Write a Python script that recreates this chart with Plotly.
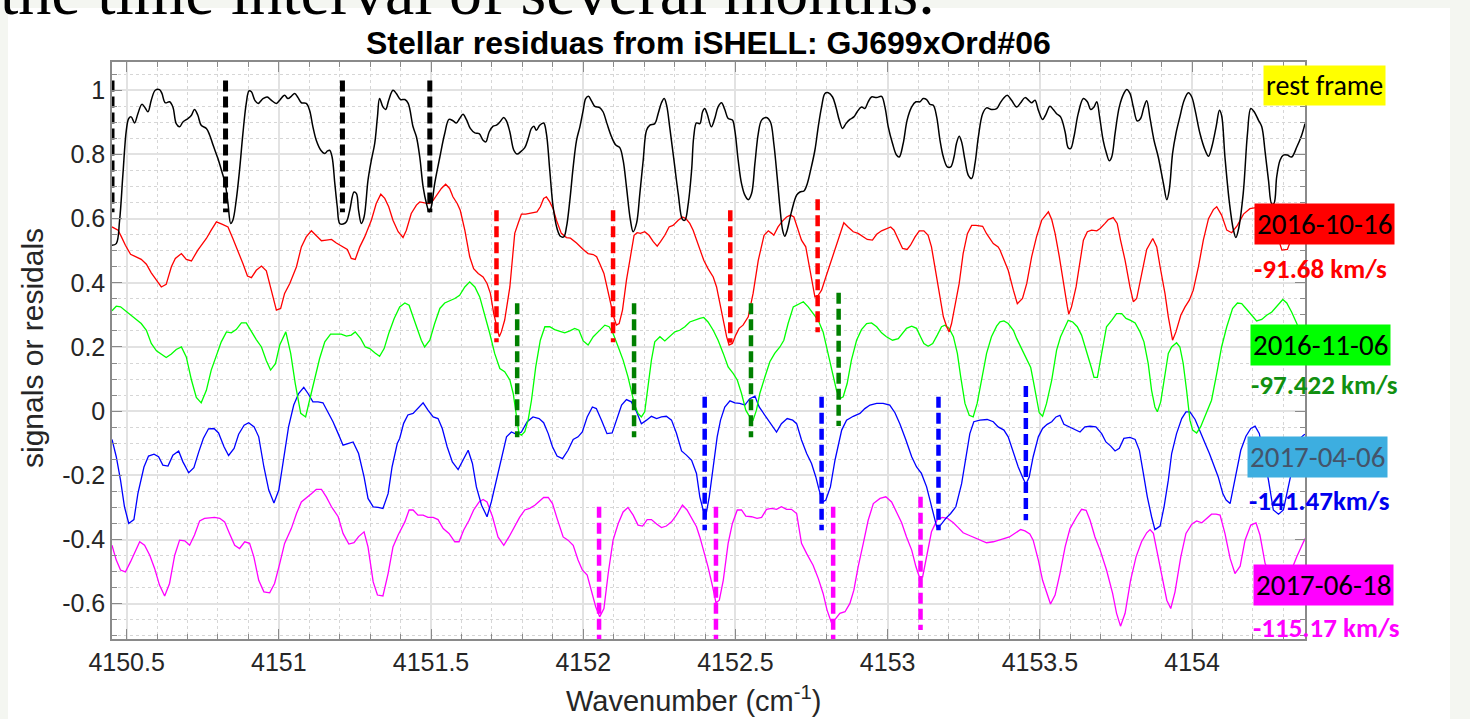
import plotly.graph_objects as go

# ---------------- data (wavenumber cm^-1, signal) ----------------
BLACK = [(4150.452,0.517),(4150.466,0.522),(4150.477,0.595),(4150.488,0.740),(4150.499,0.875),(4150.507,0.912),(4150.515,0.917),(4150.526,0.898),(4150.537,0.927),(4150.550,0.956),
(4150.559,0.948),(4150.570,0.933),(4150.581,0.969),(4150.594,1.000),(4150.608,1.002),(4150.616,0.990),(4150.627,0.961),(4150.641,0.964),(4150.652,0.948),(4150.663,0.896),
(4150.674,0.886),(4150.685,0.901),(4150.702,0.912),(4150.713,0.922),(4150.723,0.940),(4150.734,0.922),(4150.745,0.891),(4150.762,0.881),(4150.773,0.860),(4150.784,0.829),
(4150.800,0.787),(4150.813,0.746),(4150.824,0.709),(4150.833,0.647),(4150.842,0.585),(4150.849,0.595),(4150.860,0.657),(4150.871,0.751),(4150.882,0.865),(4150.893,0.959),
(4150.902,0.998),(4150.910,0.995),(4150.921,0.969),(4150.932,0.959),(4150.948,0.974),(4150.962,0.979),(4150.975,0.969),(4150.992,0.959),(4151.003,0.969),(4151.019,0.984),
(4151.030,0.974),(4151.041,0.981),(4151.052,0.990),(4151.063,0.977),(4151.074,0.961),(4151.090,0.959),(4151.101,0.938),(4151.112,0.886),(4151.123,0.844),(4151.138,0.813),
(4151.151,0.803),(4151.160,0.811),(4151.167,0.813),(4151.175,0.792),(4151.184,0.709),(4151.192,0.637),(4151.200,0.585),(4151.211,0.583),(4151.222,0.590),(4151.233,0.626),
(4151.247,0.683),(4151.255,0.678),(4151.262,0.626),(4151.271,0.585),(4151.280,0.605),(4151.293,0.720),(4151.304,0.782),(4151.315,0.834),(4151.324,0.917),(4151.331,0.974),
(4151.342,0.948),(4151.351,0.940),(4151.361,0.969),(4151.375,1.000),(4151.386,0.990),(4151.400,0.971),
(4151.414,0.971),(4151.425,0.959),(4151.441,0.886),(4151.452,0.855),(4151.463,0.792),(4151.474,0.699),(4151.485,0.647),(4151.494,0.621),(4151.501,0.637),(4151.512,0.709),
(4151.529,0.792),(4151.545,0.865),(4151.559,0.909),(4151.572,0.905),(4151.583,0.898),(4151.594,0.912),(4151.605,0.925),(4151.616,0.909),(4151.629,0.881),(4151.644,0.867),
(4151.658,0.865),(4151.671,0.844),(4151.680,0.839),(4151.691,0.870),(4151.704,0.888),(4151.715,0.891),(4151.726,0.901),(4151.739,0.915),(4151.748,0.904),(4151.759,0.870),
(4151.772,0.813),(4151.783,0.801),(4151.794,0.808),(4151.808,0.821),(4151.819,0.849),(4151.830,0.881),(4151.838,0.888),(4151.846,0.875),(4151.857,0.891),(4151.870,0.898),
(4151.879,0.865),(4151.890,0.751),(4151.901,0.637),(4151.914,0.569),(4151.925,0.545),(4151.936,0.543),(4151.945,0.574),(4151.956,0.657),(4151.967,0.761),(4151.978,0.844),
(4151.989,0.886),(4152.000,0.938),(4152.008,0.974),(4152.017,0.981),(4152.027,0.967),(4152.038,0.950),(4152.054,0.946),(4152.065,0.933),(4152.078,0.896),(4152.093,0.855),
(4152.107,0.829),(4152.120,0.821),(4152.131,0.782),(4152.142,0.699),(4152.155,0.595),(4152.164,0.559),(4152.175,0.585),(4152.186,0.678),(4152.197,0.782),(4152.208,0.875),
(4152.219,0.891),(4152.235,0.896),(4152.246,0.927),(4152.257,0.961),(4152.266,0.974),(4152.274,0.953),(4152.284,0.886),(4152.298,0.782),(4152.312,0.678),(4152.326,0.597),
(4152.334,0.595),(4152.345,0.647),(4152.356,0.751),(4152.363,0.855),(4152.372,0.898),(4152.383,0.896),
(4152.392,0.933),(4152.399,0.943),(4152.407,0.927),(4152.421,0.886),(4152.432,0.912),(4152.443,0.948),(4152.454,0.961),(4152.465,0.940),(4152.476,0.912),(4152.490,0.907),
(4152.498,0.875),(4152.509,0.782),(4152.520,0.709),(4152.531,0.673),(4152.542,0.659),(4152.553,0.678),(4152.564,0.772),(4152.575,0.865),(4152.586,0.907),(4152.602,0.915),
(4152.615,0.901),(4152.626,0.834),(4152.637,0.730),(4152.646,0.637),(4152.655,0.564),(4152.662,0.545),(4152.670,0.564),(4152.684,0.621),(4152.701,0.673),(4152.712,0.683),
(4152.725,0.686),(4152.736,0.709),(4152.747,0.751),(4152.761,0.813),(4152.772,0.886),(4152.783,0.948),(4152.794,0.990),(4152.805,0.992),(4152.819,0.979),(4152.830,0.948),
(4152.841,0.907),(4152.852,0.881),(4152.863,0.896),(4152.876,0.909),(4152.889,0.917),(4152.900,0.933),(4152.914,0.948),(4152.925,0.943),(4152.936,0.964),(4152.947,0.979),
(4152.964,0.977),(4152.980,0.981),(4152.991,0.948),(4153.002,0.886),(4153.016,0.834),(4153.029,0.798),(4153.038,0.792),(4153.051,0.834),(4153.064,0.907),(4153.079,0.948),
(4153.093,0.964),(4153.106,0.964),(4153.117,0.974),(4153.128,0.971),(4153.139,0.956),(4153.150,0.953),(4153.161,0.917),(4153.172,0.844),(4153.183,0.792),(4153.196,0.761),
(4153.207,0.761),(4153.218,0.792),(4153.226,0.834),(4153.235,0.857),(4153.243,0.839),(4153.254,0.782),(4153.265,0.735),(4153.276,0.725),(4153.287,0.772),(4153.298,0.855),
(4153.312,0.927),(4153.325,0.945),(4153.341,0.940),(4153.358,0.943),
(4153.369,0.959),(4153.380,0.974),(4153.393,0.984),(4153.407,0.969),(4153.424,0.948),(4153.437,0.961),(4153.451,0.977),(4153.465,0.967),(4153.473,0.961),(4153.484,0.969),
(4153.495,0.938),(4153.509,0.909),(4153.520,0.925),(4153.533,0.950),(4153.544,0.940),(4153.555,0.927),(4153.568,0.917),(4153.583,0.870),(4153.593,0.821),(4153.601,0.818),
(4153.612,0.855),(4153.626,0.927),(4153.643,0.974),(4153.656,0.964),(4153.667,0.940),(4153.678,0.948),(4153.687,0.964),(4153.697,0.912),(4153.708,0.844),(4153.719,0.803),
(4153.728,0.780),(4153.736,0.792),(4153.747,0.865),(4153.761,0.948),(4153.776,0.990),(4153.785,1.002),(4153.796,0.990),(4153.807,0.948),(4153.820,0.904),(4153.831,0.912),
(4153.842,0.948),(4153.851,0.967),(4153.862,0.912),(4153.875,0.844),(4153.889,0.792),(4153.906,0.709),(4153.917,0.659),(4153.925,0.689),(4153.936,0.803),(4153.947,0.865),
(4153.960,0.917),(4153.974,0.969),(4153.988,0.992),(4153.999,0.979),(4154.010,0.938),(4154.026,0.865),(4154.043,0.813),(4154.054,0.794),(4154.065,0.824),(4154.079,0.886),
(4154.090,0.938),(4154.097,0.922),(4154.108,0.792),(4154.123,0.647),(4154.136,0.564),(4154.144,0.541),(4154.152,0.564),(4154.168,0.678),(4154.182,0.865),(4154.193,0.943),
(4154.204,0.933),(4154.218,0.907),(4154.229,0.886),(4154.240,0.808),(4154.251,0.720),(4154.262,0.645),(4154.269,0.647),(4154.278,0.730),(4154.289,0.782),(4154.300,0.798),
(4154.313,0.798),(4154.327,0.792),(4154.344,0.823),(4154.360,0.860),(4154.371,0.896)]

RED = [(4150.452,0.574),(4150.472,0.564),(4150.483,0.543),(4150.496,0.517),(4150.513,0.489),(4150.532,0.479),(4150.548,0.473),(4150.565,0.458),(4150.581,0.431),(4150.598,0.408),
(4150.614,0.387),(4150.630,0.395),(4150.647,0.450),(4150.660,0.476),(4150.680,0.491),(4150.696,0.473),(4150.713,0.468),(4150.734,0.502),(4150.762,0.538),(4150.778,0.564),
(4150.795,0.590),(4150.813,0.583),(4150.833,0.574),(4150.849,0.538),(4150.866,0.500),(4150.882,0.460),(4150.897,0.421),(4150.910,0.416),(4150.926,0.439),(4150.943,0.452),
(4150.959,0.437),(4150.975,0.377),(4150.992,0.315),(4151.006,0.320),(4151.019,0.367),(4151.036,0.398),(4151.058,0.450),(4151.074,0.512),(4151.090,0.543),(4151.107,0.562),
(4151.123,0.548),(4151.140,0.531),(4151.156,0.533),(4151.173,0.535),(4151.189,0.524),(4151.211,0.512),(4151.225,0.504),(4151.238,0.476),(4151.251,0.473),(4151.266,0.512),
(4151.282,0.543),(4151.304,0.595),(4151.320,0.647),(4151.335,0.676),(4151.348,0.663),(4151.361,0.637),(4151.375,0.595),(4151.392,0.559),
(4151.408,0.541),(4151.419,0.564),(4151.435,0.616),(4151.452,0.642),(4151.463,0.652),(4151.479,0.649),(4151.494,0.647),(4151.507,0.657),(4151.520,0.673),(4151.534,0.694),
(4151.548,0.707),(4151.561,0.694),(4151.572,0.668),(4151.586,0.647),(4151.596,0.626),(4151.611,0.564),(4151.627,0.481),(4151.640,0.444),(4151.655,0.429),(4151.671,0.418),
(4151.684,0.398),(4151.695,0.367),(4151.706,0.304),(4151.715,0.263),(4151.724,0.232),(4151.731,0.247),(4151.742,0.284),(4151.759,0.387),(4151.775,0.554),(4151.786,0.585),
(4151.797,0.614),(4151.811,0.614),(4151.824,0.616),(4151.835,0.618),(4151.848,0.621),(4151.859,0.637),(4151.870,0.663),(4151.879,0.668),(4151.890,0.652),(4151.901,0.631),
(4151.912,0.595),(4151.928,0.554),(4151.945,0.541),(4151.958,0.539),(4151.978,0.524),(4152.000,0.504),(4152.016,0.491),(4152.033,0.488),(4152.044,0.481),(4152.054,0.460),
(4152.068,0.429),(4152.078,0.387),(4152.089,0.335),(4152.100,0.294),(4152.109,0.268),(4152.118,0.273),(4152.129,0.315),(4152.142,0.408),(4152.155,0.481),(4152.167,0.548),
(4152.177,0.556),(4152.188,0.554),(4152.202,0.559),(4152.216,0.548),(4152.230,0.528),(4152.243,0.514),(4152.254,0.528),(4152.268,0.548),(4152.282,0.574),(4152.295,0.579),
(4152.312,0.595),(4152.326,0.605),(4152.337,0.600),(4152.350,0.585),(4152.361,0.564),(4152.377,0.522),
(4152.383,0.502),(4152.396,0.470),(4152.410,0.444),(4152.427,0.418),(4152.438,0.387),(4152.449,0.335),(4152.460,0.284),(4152.471,0.232),(4152.479,0.206),(4152.490,0.211),
(4152.501,0.237),(4152.512,0.258),(4152.525,0.268),(4152.542,0.294),(4152.558,0.367),(4152.575,0.470),(4152.594,0.548),(4152.608,0.562),(4152.619,0.554),(4152.626,0.548),
(4152.640,0.574),(4152.655,0.593),(4152.668,0.605),(4152.681,0.611),(4152.692,0.605),(4152.703,0.574),(4152.717,0.533),(4152.731,0.512),(4152.739,0.470),(4152.750,0.408),
(4152.761,0.356),(4152.772,0.361),(4152.783,0.377),(4152.797,0.418),(4152.812,0.460),(4152.827,0.502),(4152.841,0.543),(4152.856,0.587),(4152.870,0.574),(4152.887,0.559),
(4152.903,0.554),(4152.920,0.543),(4152.933,0.535),(4152.950,0.533),(4152.964,0.551),(4152.980,0.562),(4152.996,0.569),(4153.010,0.574),(4153.021,0.564),(4153.035,0.538),
(4153.049,0.507),(4153.064,0.504),(4153.075,0.517),(4153.090,0.543),(4153.104,0.562),(4153.119,0.562),(4153.133,0.548),(4153.144,0.512),(4153.155,0.450),(4153.170,0.367),
(4153.183,0.294),(4153.194,0.263),(4153.202,0.247),(4153.210,0.273),(4153.221,0.325),(4153.235,0.398),(4153.248,0.491),(4153.262,0.553),(4153.276,0.579),(4153.290,0.579),
(4153.312,0.576),(4153.325,0.553),(4153.347,0.522),(4153.363,0.512),
(4153.369,0.502),(4153.382,0.470),(4153.396,0.439),(4153.413,0.377),(4153.426,0.335),(4153.443,0.351),(4153.457,0.398),(4153.473,0.481),(4153.489,0.543),(4153.506,0.595),
(4153.520,0.611),(4153.528,0.621),(4153.539,0.597),(4153.550,0.554),(4153.564,0.481),(4153.577,0.398),(4153.590,0.327),(4153.595,0.302),(4153.604,0.325),(4153.619,0.387),
(4153.634,0.470),(4153.643,0.533),(4153.656,0.559),(4153.670,0.564),(4153.687,0.562),(4153.698,0.569),(4153.714,0.585),(4153.725,0.597),(4153.741,0.603),(4153.754,0.585),
(4153.765,0.533),(4153.780,0.470),(4153.796,0.387),(4153.807,0.341),(4153.818,0.351),(4153.834,0.429),(4153.851,0.504),(4153.871,0.538),(4153.884,0.512),(4153.895,0.450),
(4153.911,0.367),(4153.922,0.294),(4153.936,0.221),(4153.947,0.247),(4153.963,0.299),(4153.977,0.325),(4153.991,0.346),(4154.004,0.377),(4154.021,0.450),(4154.037,0.533),
(4154.054,0.600),(4154.070,0.628),(4154.081,0.637),(4154.097,0.611),(4154.114,0.564),(4154.130,0.556),(4154.149,0.579),(4154.169,0.614),(4154.190,0.631),(4154.210,0.634),
(4154.234,0.642),(4154.262,0.626),(4154.278,0.553),(4154.295,0.502),(4154.313,0.504),(4154.333,0.553),(4154.355,0.605),(4154.371,0.636)]

GREEN = [(4150.452,0.313),(4150.466,0.327),(4150.480,0.325),(4150.496,0.313),(4150.515,0.299),(4150.532,0.286),(4150.548,0.273),(4150.565,0.252),(4150.581,0.211),(4150.598,0.188),
(4150.614,0.178),(4150.630,0.167),(4150.647,0.178),(4150.663,0.192),(4150.680,0.200),(4150.696,0.169),(4150.713,0.097),(4150.729,0.043),(4150.745,0.026),(4150.762,0.065),
(4150.778,0.128),(4150.795,0.174),(4150.811,0.216),(4150.828,0.247),(4150.844,0.244),(4150.860,0.254),(4150.877,0.275),(4150.893,0.275),(4150.910,0.247),(4150.926,0.223),
(4150.943,0.200),(4150.959,0.157),(4150.973,0.128),(4150.989,0.148),(4151.003,0.206),(4151.023,0.247),(4151.039,0.180),(4151.054,0.086),(4151.072,-0.007),(4151.088,-0.018),
(4151.101,0.034),(4151.118,0.102),(4151.134,0.164),(4151.151,0.216),(4151.170,0.240),(4151.189,0.240),(4151.205,0.240),(4151.222,0.234),(4151.238,0.237),(4151.251,0.247),
(4151.269,0.226),(4151.284,0.200),(4151.299,0.195),(4151.315,0.182),(4151.331,0.171),(4151.346,0.195),(4151.361,0.242),(4151.379,0.289),(4151.397,0.325),
(4151.414,0.337),(4151.428,0.330),(4151.441,0.294),(4151.457,0.252),(4151.468,0.221),(4151.479,0.200),(4151.496,0.221),(4151.512,0.273),(4151.529,0.320),(4151.545,0.337),
(4151.561,0.344),(4151.578,0.351),(4151.594,0.361),(4151.611,0.387),(4151.627,0.403),(4151.644,0.387),(4151.660,0.356),(4151.676,0.304),(4151.693,0.242),(4151.709,0.180),
(4151.726,0.133),(4151.742,0.123),(4151.759,0.097),(4151.770,0.055),(4151.780,-0.007),(4151.789,-0.070),(4151.797,-0.075),(4151.808,-0.064),(4151.819,-0.028),(4151.830,0.034),
(4151.844,0.138),(4151.859,0.221),(4151.874,0.263),(4151.890,0.263),(4151.906,0.254),(4151.923,0.250),(4151.939,0.244),(4151.956,0.250),(4151.972,0.258),(4151.986,0.252),
(4152.000,0.219),(4152.016,0.206),(4152.033,0.232),(4152.049,0.247),(4152.071,0.268),(4152.085,0.263),(4152.098,0.242),(4152.115,0.200),(4152.131,0.159),(4152.147,0.107),
(4152.158,0.065),(4152.169,0.019),(4152.180,-0.007),(4152.191,-0.018),(4152.202,-0.002),(4152.213,0.076),(4152.224,0.159),(4152.235,0.216),(4152.252,0.232),(4152.268,0.219),
(4152.284,0.234),(4152.301,0.247),(4152.317,0.252),(4152.334,0.263),(4152.350,0.278),(4152.372,0.286),
(4152.383,0.289),(4152.396,0.292),(4152.410,0.278),(4152.427,0.252),(4152.443,0.221),(4152.460,0.180),(4152.476,0.138),(4152.493,0.117),(4152.506,0.097),(4152.520,0.055),
(4152.534,0.003),(4152.547,-0.018),(4152.558,-0.028),(4152.569,0.003),(4152.580,0.055),(4152.597,0.107),(4152.613,0.154),(4152.629,0.180),(4152.646,0.200),(4152.659,0.221),
(4152.673,0.273),(4152.690,0.325),(4152.706,0.333),(4152.723,0.341),(4152.739,0.325),(4152.755,0.304),(4152.772,0.283),(4152.788,0.247),(4152.805,0.180),(4152.819,0.117),
(4152.832,0.065),(4152.843,0.039),(4152.854,0.045),(4152.867,0.086),(4152.881,0.159),(4152.898,0.221),(4152.914,0.254),(4152.931,0.273),(4152.947,0.275),(4152.964,0.263),
(4152.980,0.244),(4152.996,0.232),(4153.016,0.221),(4153.035,0.226),(4153.049,0.242),(4153.062,0.258),(4153.079,0.265),(4153.095,0.258),(4153.108,0.232),(4153.119,0.211),
(4153.133,0.202),(4153.148,0.211),(4153.163,0.237),(4153.177,0.263),(4153.188,0.268),(4153.202,0.258),(4153.216,0.232),(4153.229,0.180),(4153.240,0.107),(4153.254,0.024),
(4153.268,-0.013),(4153.281,-0.018),(4153.294,0.024),(4153.309,0.097),(4153.325,0.180),(4153.341,0.232),(4153.358,0.265),
(4153.369,0.278),(4153.382,0.281),(4153.396,0.273),(4153.413,0.252),(4153.424,0.226),(4153.437,0.200),(4153.454,0.169),(4153.470,0.136),(4153.478,0.097),(4153.489,0.034),
(4153.498,-0.005),(4153.509,-0.016),(4153.522,0.024),(4153.539,0.097),(4153.555,0.190),(4153.568,0.232),(4153.583,0.263),(4153.593,0.283),(4153.608,0.278),(4153.623,0.263),
(4153.637,0.237),(4153.656,0.180),(4153.670,0.133),(4153.678,0.105),(4153.689,0.105),(4153.703,0.180),(4153.719,0.263),(4153.736,0.283),(4153.752,0.304),(4153.769,0.304),
(4153.783,0.289),(4153.798,0.283),(4153.813,0.275),(4153.829,0.247),(4153.842,0.216),(4153.856,0.148),(4153.867,0.065),(4153.878,0.013),(4153.886,-0.002),(4153.897,0.029),
(4153.911,0.117),(4153.922,0.180),(4153.933,0.200),(4153.949,0.213),(4153.960,0.200),(4153.971,0.148),(4153.982,0.065),(4153.993,-0.028),(4154.002,-0.059),(4154.015,-0.068),
(4154.028,-0.049),(4154.046,-0.007),(4154.064,0.034),(4154.081,0.117),(4154.097,0.200),(4154.114,0.263),(4154.133,0.320),(4154.149,0.337),(4154.163,0.335),(4154.177,0.320),
(4154.196,0.299),(4154.212,0.281),(4154.229,0.286),(4154.245,0.299),(4154.262,0.309),(4154.278,0.325),(4154.298,0.348),(4154.311,0.337),(4154.327,0.309),(4154.344,0.273),
(4154.360,0.226),(4154.371,0.200)]

BLUE = [(4150.452,-0.088),(4150.466,-0.142),(4150.480,-0.215),(4150.493,-0.298),(4150.507,-0.350),(4150.524,-0.338),(4150.537,-0.257),(4150.557,-0.174),(4150.572,-0.140),(4150.590,-0.134),
(4150.605,-0.142),(4150.619,-0.168),(4150.636,-0.171),(4150.652,-0.137),(4150.671,-0.124),(4150.685,-0.158),(4150.704,-0.192),(4150.721,-0.176),(4150.737,-0.127),(4150.752,-0.085),
(4150.769,-0.055),(4150.787,-0.054),(4150.802,-0.068),(4150.820,-0.111),(4150.835,-0.138),(4150.853,-0.116),(4150.868,-0.072),(4150.886,-0.044),(4150.901,-0.036),(4150.919,-0.049),
(4150.934,-0.080),(4150.951,-0.174),(4150.967,-0.246),(4150.984,-0.286),(4151.000,-0.246),(4151.016,-0.142),(4151.032,-0.049),(4151.049,0.019),(4151.065,0.055),(4151.082,0.074),
(4151.096,0.055),(4151.112,0.029),(4151.129,0.029),(4151.145,0.026),(4151.162,-0.002),(4151.178,-0.033),(4151.195,-0.070),(4151.211,-0.106),(4151.227,-0.101),(4151.244,-0.096),
(4151.262,-0.132),(4151.280,-0.205),(4151.293,-0.272),(4151.310,-0.298),(4151.326,-0.300),(4151.342,-0.303),(4151.359,-0.257),(4151.372,-0.174),(4151.389,-0.101),
(4151.397,-0.085),(4151.410,-0.038),(4151.424,-0.012),(4151.441,-0.007),(4151.457,0.008),(4151.474,0.026),(4151.490,0.003),(4151.507,-0.018),(4151.523,-0.023),(4151.537,-0.054),
(4151.553,-0.111),(4151.570,-0.158),(4151.589,-0.182),(4151.605,-0.153),(4151.622,-0.122),(4151.636,-0.163),(4151.649,-0.236),(4151.666,-0.293),(4151.684,-0.329),(4151.698,-0.283),
(4151.715,-0.215),(4151.731,-0.142),(4151.748,-0.080),(4151.764,-0.065),(4151.781,-0.072),(4151.797,-0.065),(4151.816,-0.033),(4151.835,-0.018),(4151.855,-0.023),(4151.870,-0.036),
(4151.885,-0.070),(4151.899,-0.111),(4151.914,-0.140),(4151.932,-0.148),(4151.950,-0.122),(4151.967,-0.088),(4151.983,-0.080),(4151.997,-0.065),(4152.013,-0.018),(4152.030,0.013),
(4152.043,0.008),(4152.060,-0.028),(4152.078,-0.070),(4152.095,-0.068),(4152.109,-0.028),(4152.126,0.019),(4152.142,0.036),(4152.158,0.029),(4152.175,-0.002),(4152.191,-0.039),
(4152.208,-0.028),(4152.224,-0.016),(4152.241,-0.023),(4152.257,-0.018),(4152.273,-0.016),(4152.290,-0.028),(4152.306,-0.068),(4152.323,-0.124),(4152.339,-0.137),(4152.356,-0.153),
(4152.372,-0.194),
(4152.383,-0.267),(4152.394,-0.308),(4152.403,-0.324),(4152.414,-0.267),(4152.427,-0.174),(4152.440,-0.080),(4152.451,-0.028),(4152.465,0.013),(4152.482,0.032),(4152.498,0.026),
(4152.514,0.024),(4152.531,0.019),(4152.547,0.039),(4152.564,0.047),(4152.578,0.013),(4152.593,-0.007),(4152.613,-0.033),(4152.635,-0.065),(4152.651,-0.039),(4152.670,-0.023),
(4152.688,-0.028),(4152.701,-0.039),(4152.717,-0.090),(4152.734,-0.132),(4152.750,-0.163),(4152.764,-0.205),(4152.775,-0.246),(4152.786,-0.283),(4152.797,-0.277),(4152.812,-0.236),
(4152.827,-0.153),(4152.841,-0.090),(4152.849,-0.059),(4152.865,-0.028),(4152.887,-0.016),(4152.909,-0.007),(4152.925,0.008),(4152.942,0.019),(4152.964,0.024),(4152.985,0.024),
(4153.007,0.019),(4153.024,-0.005),(4153.040,-0.039),(4153.060,-0.090),(4153.079,-0.142),(4153.095,-0.174),(4153.111,-0.194),(4153.128,-0.236),(4153.144,-0.298),(4153.161,-0.360),
(4153.174,-0.355),(4153.191,-0.334),(4153.207,-0.319),(4153.224,-0.298),(4153.243,-0.226),(4153.257,-0.142),(4153.270,-0.070),(4153.283,-0.033),(4153.303,-0.028),(4153.327,-0.026),
(4153.347,-0.033),(4153.363,-0.049),
(4153.382,-0.059),(4153.396,-0.080),(4153.413,-0.132),(4153.429,-0.174),(4153.443,-0.205),(4153.454,-0.228),(4153.465,-0.205),(4153.478,-0.142),(4153.495,-0.080),(4153.509,-0.054),
(4153.524,-0.041),(4153.539,-0.033),(4153.553,-0.018),(4153.566,-0.013),(4153.579,-0.041),(4153.599,-0.051),(4153.615,-0.059),(4153.632,-0.065),(4153.648,-0.049),(4153.665,-0.047),
(4153.684,-0.049),(4153.703,-0.070),(4153.717,-0.096),(4153.733,-0.109),(4153.747,-0.124),(4153.761,-0.116),(4153.776,-0.085),(4153.796,-0.082),(4153.813,-0.088),(4153.827,-0.122),
(4153.840,-0.194),(4153.853,-0.267),(4153.867,-0.329),(4153.878,-0.369),(4153.895,-0.358),(4153.908,-0.298),(4153.922,-0.215),(4153.933,-0.132),(4153.949,-0.070),(4153.966,-0.023),
(4153.980,-0.002),(4153.993,-0.002),(4154.010,-0.026),(4154.026,-0.065),(4154.043,-0.101),(4154.057,-0.132),(4154.070,-0.163),(4154.086,-0.205),(4154.101,-0.257),(4154.112,-0.277),
(4154.125,-0.288),(4154.136,-0.236),(4154.149,-0.174),(4154.160,-0.122),(4154.177,-0.078),(4154.193,-0.054),(4154.207,-0.047),(4154.221,-0.070),(4154.234,-0.132),(4154.251,-0.215),
(4154.267,-0.308),(4154.284,-0.321),(4154.300,-0.308),(4154.316,-0.236),(4154.333,-0.153),(4154.349,-0.090),(4154.366,-0.075),(4154.371,-0.072)]

MAGENTA = [(4150.452,-0.418),(4150.466,-0.464),(4150.480,-0.495),(4150.496,-0.501),(4150.513,-0.469),(4150.528,-0.438),(4150.543,-0.407),(4150.559,-0.418),(4150.576,-0.449),(4150.592,-0.490),
(4150.608,-0.542),(4150.625,-0.576),(4150.641,-0.537),(4150.658,-0.449),(4150.674,-0.402),(4150.691,-0.404),(4150.707,-0.418),(4150.723,-0.386),(4150.740,-0.342),(4150.756,-0.334),
(4150.773,-0.332),(4150.789,-0.331),(4150.806,-0.334),(4150.822,-0.345),(4150.838,-0.381),(4150.855,-0.418),(4150.871,-0.428),(4150.888,-0.407),(4150.904,-0.412),(4150.918,-0.454),
(4150.934,-0.527),(4150.951,-0.563),(4150.970,-0.566),(4150.986,-0.537),(4151.003,-0.475),(4151.019,-0.412),(4151.041,-0.366),(4151.058,-0.319),(4151.074,-0.283),(4151.090,-0.269),
(4151.107,-0.257),(4151.123,-0.244),(4151.140,-0.244),(4151.156,-0.267),(4151.173,-0.298),(4151.195,-0.329),(4151.211,-0.381),(4151.230,-0.414),(4151.247,-0.410),(4151.262,-0.391),
(4151.280,-0.376),(4151.293,-0.423),(4151.310,-0.532),(4151.324,-0.573),(4151.342,-0.576),(4151.359,-0.506),(4151.375,-0.423),(4151.392,-0.386),
(4151.414,-0.345),(4151.428,-0.308),(4151.441,-0.308),(4151.457,-0.324),(4151.474,-0.324),(4151.490,-0.331),(4151.507,-0.331),(4151.523,-0.338),(4151.540,-0.366),(4151.559,-0.381),
(4151.578,-0.407),(4151.592,-0.407),(4151.607,-0.371),(4151.625,-0.340),(4151.640,-0.308),(4151.658,-0.283),(4151.671,-0.275),(4151.684,-0.283),(4151.702,-0.329),(4151.720,-0.392),
(4151.739,-0.418),(4151.756,-0.392),(4151.775,-0.360),(4151.791,-0.331),(4151.808,-0.308),(4151.824,-0.303),(4151.841,-0.293),(4151.855,-0.280),(4151.870,-0.269),(4151.885,-0.269),
(4151.899,-0.288),(4151.914,-0.334),(4151.934,-0.392),(4151.950,-0.402),(4151.967,-0.418),(4151.983,-0.464),(4151.997,-0.495),(4152.013,-0.511),(4152.027,-0.563),(4152.041,-0.610),
(4152.054,-0.641),(4152.068,-0.615),(4152.082,-0.506),(4152.098,-0.402),(4152.115,-0.350),(4152.131,-0.314),(4152.147,-0.300),(4152.164,-0.324),(4152.180,-0.355),(4152.195,-0.358),
(4152.210,-0.338),(4152.224,-0.338),(4152.241,-0.352),(4152.257,-0.363),(4152.273,-0.358),(4152.290,-0.345),(4152.306,-0.324),(4152.326,-0.293),(4152.341,-0.308),(4152.356,-0.334),
(4152.372,-0.360),
(4152.383,-0.392),(4152.396,-0.433),(4152.410,-0.485),(4152.425,-0.547),(4152.436,-0.597),(4152.447,-0.589),(4152.460,-0.527),(4152.476,-0.412),(4152.490,-0.350),(4152.506,-0.308),
(4152.520,-0.308),(4152.534,-0.327),(4152.553,-0.329),(4152.571,-0.334),(4152.586,-0.331),(4152.602,-0.306),(4152.619,-0.303),(4152.635,-0.306),(4152.651,-0.298),(4152.668,-0.306),
(4152.684,-0.306),(4152.701,-0.319),(4152.717,-0.412),(4152.734,-0.444),(4152.755,-0.480),(4152.772,-0.521),(4152.788,-0.568),(4152.801,-0.620),(4152.816,-0.661),(4152.830,-0.646),
(4152.843,-0.630),(4152.860,-0.625),(4152.876,-0.599),(4152.889,-0.558),(4152.903,-0.485),(4152.920,-0.412),(4152.936,-0.340),(4152.953,-0.288),(4152.975,-0.272),(4152.994,-0.267),
(4153.013,-0.283),(4153.029,-0.314),(4153.046,-0.348),(4153.062,-0.392),(4153.079,-0.433),(4153.093,-0.485),(4153.104,-0.516),(4153.115,-0.516),(4153.128,-0.454),(4153.144,-0.376),
(4153.163,-0.338),(4153.180,-0.331),(4153.196,-0.334),(4153.216,-0.348),(4153.232,-0.363),(4153.248,-0.379),(4153.265,-0.386),(4153.281,-0.392),(4153.303,-0.402),(4153.325,-0.410),
(4153.347,-0.407),
(4153.369,-0.402),(4153.382,-0.397),(4153.400,-0.392),(4153.418,-0.381),(4153.437,-0.369),(4153.451,-0.373),(4153.467,-0.383),(4153.478,-0.402),(4153.495,-0.464),(4153.509,-0.527),
(4153.522,-0.568),(4153.535,-0.601),(4153.550,-0.573),(4153.566,-0.506),(4153.583,-0.423),(4153.599,-0.366),(4153.621,-0.329),(4153.637,-0.306),(4153.652,-0.309),(4153.665,-0.340),
(4153.681,-0.392),(4153.698,-0.433),(4153.719,-0.495),(4153.739,-0.568),(4153.752,-0.630),(4153.765,-0.670),(4153.780,-0.630),(4153.798,-0.527),(4153.816,-0.454),(4153.834,-0.407),
(4153.851,-0.379),(4153.862,-0.369),(4153.873,-0.381),(4153.889,-0.454),(4153.906,-0.537),(4153.917,-0.589),(4153.930,-0.615),(4153.944,-0.563),(4153.963,-0.454),(4153.980,-0.381),
(4153.999,-0.352),(4154.015,-0.342),(4154.032,-0.348),(4154.048,-0.334),(4154.064,-0.321),(4154.079,-0.321),(4154.092,-0.324),(4154.108,-0.381),(4154.125,-0.459),(4154.141,-0.506),
(4154.158,-0.483),(4154.174,-0.402),(4154.193,-0.355),(4154.210,-0.348),(4154.223,-0.386),(4154.240,-0.475),(4154.256,-0.506),(4154.278,-0.527),(4154.300,-0.527),(4154.322,-0.506),
(4154.344,-0.454),(4154.371,-0.397)]

# line-position markers: (wavenumber, y_bottom, y_top)
BLACK_MARKS = [(4150.452, 0.62, 1.03), (4150.825, 0.62, 1.03), (4151.209, 0.62, 1.03), (4151.496, 0.62, 1.03)]
RED_MARKS = [(4151.715, 0.215, 0.626), (4152.098, 0.215, 0.626), (4152.483, 0.213, 0.626), (4152.770, 0.246, 0.660)]
GREEN_MARKS = [(4151.783, -0.081, 0.336), (4152.167, -0.081, 0.336), (4152.551, -0.081, 0.336), (4152.839, -0.046, 0.369)]
BLUE_MARKS = [(4152.399, -0.371, 0.045), (4152.783, -0.371, 0.045), (4153.167, -0.371, 0.045), (4153.454, -0.340, 0.078)]
MAGENTA_MARKS = [(4152.052, -0.715, -0.298), (4152.436, -0.715, -0.298), (4152.821, -0.715, -0.298), (4153.108, -0.682, -0.267)]

X_TICKS = [4150.5, 4151, 4151.5, 4152, 4152.5, 4153, 4153.5, 4154]
X_TICK_TEXT = ["4150.5", "4151", "4151.5", "4152", "4152.5", "4153", "4153.5", "4154"]
Y_TICKS = [-0.6, -0.4, -0.2, 0, 0.2, 0.4, 0.6, 0.8, 1]
Y_TICK_TEXT = ["-0.6", "-0.4", "-0.2", "0", "0.2", "0.4", "0.6", "0.8", "1"]

EPOCHS = ["2016-10-16", "2016-11-06", "2017-04-06", "2017-06-18"]
VELOCITIES = ["-91.68 km/s", "-97.422 km/s", "-141.47km/s", "-115.17 km/s"]

# ---------------- figure ----------------
PL, PR, PT, PB = 112, 1305, 62, 639
W, H = 1470, 719

def px(xp):
    return (xp - PL) / (PR - PL)

def py(yp):
    return (PB - yp) / (PB - PT)

fig = go.Figure()

def add_curve(pairs, color, width, shape="linear"):
    fig.add_trace(go.Scatter(x=[p[0] for p in pairs], y=[p[1] for p in pairs], mode="lines",
                             line=dict(color=color, width=width, shape=shape), hoverinfo="skip"))

add_curve(MAGENTA, "#ff00ff", 1.3)
add_curve(BLUE, "#0000ff", 1.3)
add_curve(GREEN, "#00ff00", 1.3)
add_curve(RED, "#ff0000", 1.3)
add_curve(BLACK, "#000000", 1.5, "spline")

def add_marks(marks, color, width):
    xs, ys = [], []
    for x, y0, y1 in marks:
        xs += [x, x, None]
        ys += [y1, y0, None]
    fig.add_trace(go.Scatter(x=xs, y=ys, mode="lines", line=dict(color=color, width=width, dash="11px,5px"),
                             hoverinfo="skip"))

add_marks(BLACK_MARKS, "#000000", 5)
add_marks(RED_MARKS, "#ff0000", 4.5)
add_marks(GREEN_MARKS, "#008000", 4.5)
add_marks(BLUE_MARKS, "#0000ff", 4.5)
add_marks(MAGENTA_MARKS, "#ff00ff", 4.5)

axis_common = dict(
    showline=True, linecolor="#8a8a8a", linewidth=1.5, mirror="ticks",
    ticks="inside", ticklen=10, tickwidth=1, tickcolor="#8a8a8a",
    showgrid=True, gridcolor="#e2e2e2", gridwidth=1.5, zeroline=False,
    tickfont=dict(family="Liberation Sans, Arial, sans-serif", size=25, color="#262626"),
)

fig.update_layout(
    width=W, height=H,
    margin=dict(l=PL, r=W - PR, t=PT, b=H - PB, autoexpand=False),
    paper_bgcolor="#f4f6f1", plot_bgcolor="#ffffff", showlegend=False,
    xaxis=dict(range=[4150.452, 4154.371], tickmode="array", tickvals=X_TICKS, ticktext=X_TICK_TEXT,
               minor=dict(tickmode="linear", tick0=4150.0, dtick=0.1, ticks="inside", ticklen=5,
                          tickcolor="#8a8a8a", showgrid=True, gridcolor="#d6d6d6", griddash="dot", gridwidth=1),
               **axis_common),
    yaxis=dict(range=[-0.71, 1.088], tickmode="array", tickvals=Y_TICKS, ticktext=Y_TICK_TEXT,
               minor=dict(tickmode="linear", tick0=0, dtick=0.05, ticks="inside", ticklen=5,
                          tickcolor="#8a8a8a", showgrid=True, gridcolor="#d6d6d6", griddash="dot", gridwidth=1),
               **axis_common),
    shapes=[dict(type="rect", xref="paper", yref="paper", x0=px(8), x1=px(1450), y0=py(719), y1=py(8),
                 fillcolor="#ffffff", line=dict(width=0), layer="below")],
)

ann = []
# slide text above the chart (cut by the top edge)
ann.append(dict(text="the time interval of several months.", xref="paper", yref="paper",
                x=px(-2), y=py(-8), xanchor="left", yanchor="middle", showarrow=False,
                font=dict(family="Liberation Serif, Times New Roman, serif", size=66, color="#000000")))
ann.append(dict(text="<b>Stellar residuas from iSHELL: GJ699xOrd#06</b>", xref="paper", yref="paper",
                x=px(708), y=py(43), xanchor="center", yanchor="middle", showarrow=False,
                font=dict(family="Liberation Sans, Arial, sans-serif", size=32, color="#000000")))
ann.append(dict(text="Wavenumber (cm<sup>-1</sup>)", xref="paper", yref="paper",
                x=px(693), y=py(699), xanchor="center", yanchor="middle", showarrow=False,
                font=dict(family="Liberation Sans, Arial, sans-serif", size=29, color="#262626")))
ann.append(dict(text="signals or residals", xref="paper", yref="paper", textangle=-90,
                x=px(32), y=py(348), xanchor="center", yanchor="middle", showarrow=False,
                font=dict(family="Liberation Sans, Arial, sans-serif", size=30, color="#262626")))

LABEL_FONT = "Carlito, Lato, Open Sans, sans-serif"
ann.append(dict(text="rest frame", xref="paper", yref="paper", x=px(1325), y=py(86),
                xanchor="center", yanchor="middle", showarrow=False, bgcolor="#ffff00", borderpad=2,
                font=dict(family=LABEL_FONT, size=28, color="#000000")))

box_specs = [  # center x, center y of date box; left x, center y of velocity text
    (1324, 224, "#ff0000", "#000000", 1252, 268, "#ff0000"),
    (1320, 345, "#00ff00", "#000000", 1249, 385, "#119011"),
    (1318, 457, "#3daee0", "#44546a", 1247, 500, "#0000ee"),
    (1323, 585, "#ff00ff", "#000000", 1251, 627, "#ff00ff"),
]
for (cx, cy, bg, fc, vx, vy, vc), ep, vel in zip(box_specs, EPOCHS, VELOCITIES):
    ann.append(dict(text=ep, xref="paper", yref="paper", x=px(cx), y=py(cy), xanchor="center",
                    yanchor="middle", showarrow=False, bgcolor=bg, borderpad=2,
                    font=dict(family=LABEL_FONT, size=29, color=fc)))
    ann.append(dict(text="<b>" + vel + "</b>", xref="paper", yref="paper", x=px(vx), y=py(vy),
                    xanchor="left", yanchor="middle", showarrow=False,
                    font=dict(family=LABEL_FONT, size=27, color=vc)))

fig.update_layout(annotations=ann)
fig.write_html("out.html")
